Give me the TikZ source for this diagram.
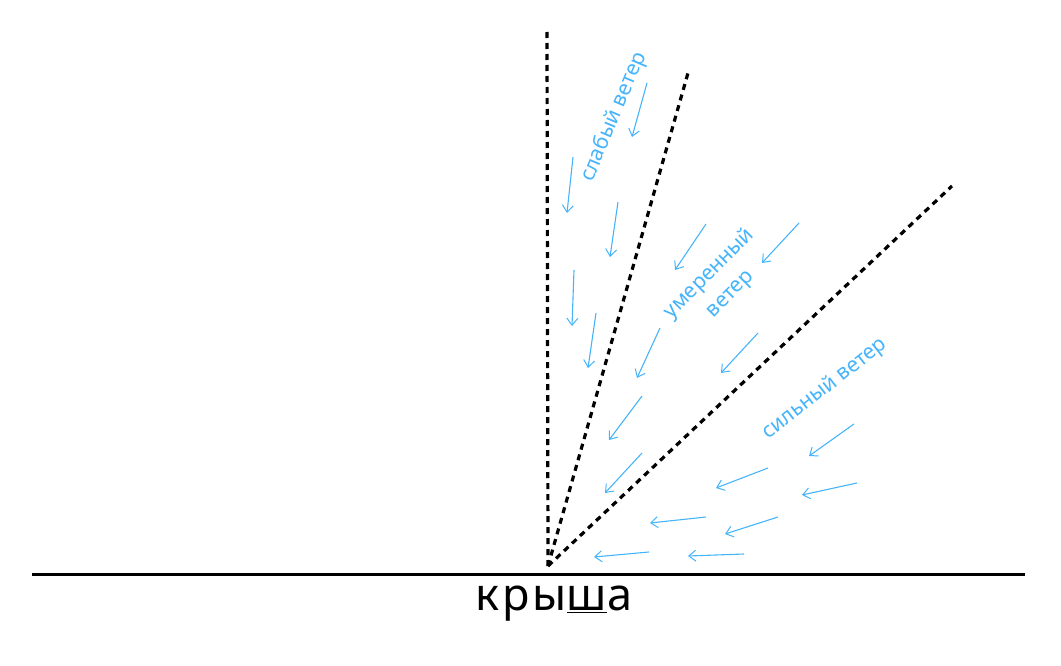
\documentclass[tikz,border=0pt]{standalone}
\usepackage{fontspec}
\setmainfont{Noto Sans}
\usetikzlibrary{arrows.meta}
\definecolor{windblue}{HTML}{45B4FA}
\begin{document}
\begin{tikzpicture}[x=1pt,y=-1pt,
  roofline/.style={line width=3pt},
  windline/.style={line width=3.2pt,dash pattern=on 6pt off 5pt},
  gust/.style={windblue,line width=1.1pt,-{Straight Barb[length=7pt,width=11pt,line width=1pt]}},
  windlabel/.style={windblue,font=\fontsize{21}{29}\selectfont,align=center,inner sep=0pt}]
\useasboundingbox (0,0) rectangle (1061,666);
% roof
\coordinate (roofL) at (32,574);
\coordinate (roofR) at (1025,574);
\draw[roofline] (roofL) -- (roofR);
\node[font=\fontsize{45}{47}\selectfont\addfontfeature{LetterSpace=6}, inner sep=0pt] (roof) at (554,604) {кры\underline{ш}а};
% dashed boundary lines
\coordinate (o) at (548,566);
\coordinate (v) at (547,30);
\coordinate (m) at (688,73);
\coordinate (s) at (952,186);
\draw[windline] (o) -- (v);
\draw[windline] (o) -- (m);
\draw[windline] (o) -- (s);
% labels
\node[windlabel, rotate=67] (weak) at (614,117) {слабый ветер};
\node[windlabel, rotate=45] (mod) at (720,284) {умеренный\\ветер};
\node[windlabel, rotate=38] (strong) at (825,389) {сильный ветер};
% gusts: weak
\draw[gust] (647,83) -- (632,137);
\draw[gust] (573,157) -- (567,213);
\draw[gust] (618,202) -- (610,257);
\draw[gust] (574,270) -- (572,326);
\draw[gust] (596,313) -- (588,368);
% gusts: moderate
\draw[gust] (706,224) -- (675,270);
\draw[gust] (799,223) -- (762,263);
\draw[gust] (660,328) -- (637,378);
\draw[gust] (758,333) -- (721,373);
\draw[gust] (642,396) -- (609,440);
\draw[gust] (642,453) -- (605,493);
% gusts: strong
\draw[gust] (854,424) -- (809,456);
\draw[gust] (768,468) -- (716,488);
\draw[gust] (857,483) -- (802,495);
\draw[gust] (706,517) -- (650,523);
\draw[gust] (778,517) -- (725,534);
\draw[gust] (649,552) -- (594,557);
\draw[gust] (744,554) -- (688,556);
\end{tikzpicture}
\end{document}
